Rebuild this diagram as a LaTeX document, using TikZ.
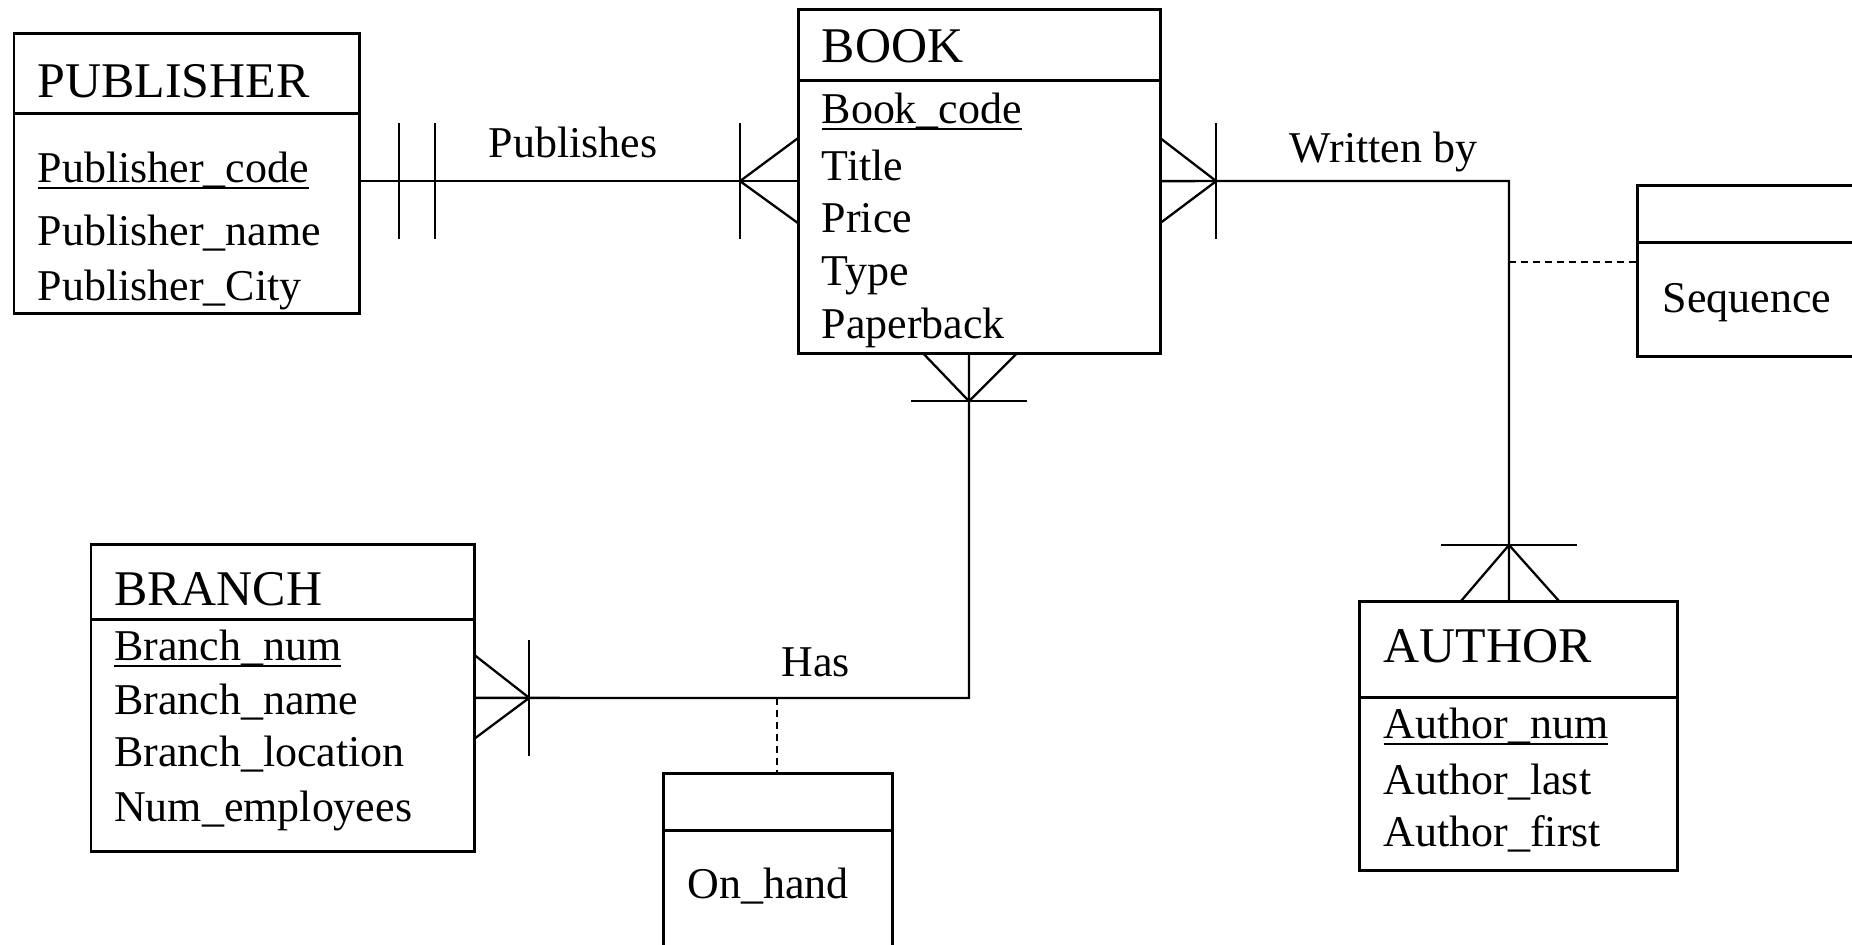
\documentclass[tikz,border=0pt]{standalone}
\usepackage{fontspec}
\setmainfont{Liberation Serif}
\usetikzlibrary{calc}

% key attribute: text with a rule just below the baseline
\newlength\keyw
\newcommand\keyattr[1]{\settowidth\keyw{#1}\rlap{\rule[-1.9pt]{\keyw}{0.6pt}}#1}

\begin{document}
\begin{tikzpicture}[x=0.01cm,y=-0.01cm,
  entity/.style={draw, line width=0.85pt, rectangle, anchor=north west,
                 inner sep=0pt, outer sep=0pt},
  divider/.style={line width=0.85pt},
  attr/.style={anchor=base west, inner sep=0pt,
               font=\fontsize{12.5pt}{15pt}\selectfont},
  etitle/.style={anchor=base west, inner sep=0pt,
                 font=\fontsize{14.2pt}{17pt}\selectfont},
  rel/.style={line width=0.65pt},
  link/.style={line width=0.7pt, dash pattern=on 2.1pt off 1.3pt}]

\useasboundingbox (0,0) rectangle (1852,944);
\clip (0,0) rectangle (1852,944);

% ---------- entity boxes ----------
\node[entity, minimum width=3.45cm, minimum height=2.80cm] (pub) at (14,33) {};
\draw[divider] ($(pub.north west)+(0,80)$) -- ($(pub.north east)+(0,80)$);

\node[entity, minimum width=3.62cm, minimum height=3.44cm] (book) at (798,9) {};
\draw[divider] ($(book.north west)+(0,71)$) -- ($(book.north east)+(0,71)$);

\node[entity, minimum width=3.83cm, minimum height=3.065cm] (branch) at (91,544.5) {};
\draw[divider] ($(branch.north west)+(0,75)$) -- ($(branch.north east)+(0,75)$);

\node[entity, minimum width=3.18cm, minimum height=2.695cm] (author) at (1359,601) {};
\draw[divider] ($(author.north west)+(0,96)$) -- ($(author.north east)+(0,96)$);

\node[entity, minimum width=3.00cm, minimum height=1.71cm] (seq) at (1637,185) {};
\draw[divider] ($(seq.north west)+(0,57)$) -- ($(seq.north east)+(0,57)$);

\node[entity, minimum width=2.29cm, minimum height=2.00cm] (onhand) at (663,773) {};
\draw[divider] ($(onhand.north west)+(0,57)$) -- ($(onhand.north east)+(0,57)$);

% ---------- entity texts ----------
\node[etitle] (tpub) at (37,97) {PUBLISHER};
\node[attr] (apub1) at (37,182) {\keyattr{Publisher\_code}};
\node[attr] (apub2) at (37,245) {Publisher\_name};
\node[attr] (apub3) at (37,300) {Publisher\_City};

\node[etitle] (tbook) at (821,62) {BOOK};
\node[attr] (abook1) at (821,123) {\keyattr{Book\_code}};
\node[attr] (abook2) at (821,180) {Title};
\node[attr] (abook3) at (821,232) {Price};
\node[attr] (abook4) at (821,285) {Type};
\node[attr] (abook5) at (821,338) {Paperback};

\node[etitle] (tbranch) at (113.5,605) {BRANCH};
\node[attr] (abr1) at (113.5,660) {\keyattr{Branch\_num}};
\node[attr] (abr2) at (113.5,714) {Branch\_name};
\node[attr] (abr3) at (113.5,766) {Branch\_location};
\node[attr] (abr4) at (113.5,821) {Num\_employees};

\node[etitle] (tauthor) at (1383,662) {AUTHOR};
\node[attr] (aau1) at (1383,738.5) {\keyattr{Author\_num}};
\node[attr] (aau2) at (1383,794) {Author\_last};
\node[attr] (aau3) at (1383,846) {Author\_first};

\node[attr] (aseq) at (1662,312) {Sequence};
\node[attr] (aonhand) at (687,898) {On\_hand};

% ---------- relationship labels ----------
\node[attr] (lpub) at (488,157) {Publishes};
\node[attr] (lwb) at (1289,162) {Written by};
\node[attr] (lhas) at (781,676) {Has};

% ---------- Publishes: PUBLISHER (one and only one) -- BOOK (one or many) ----------
\draw[rel] (pub.east |- book.west) -- (book.west);
\draw[rel] ($(pub.east |- book.west)+(40,-58)$) -- +(0,116);
\draw[rel] ($(pub.east |- book.west)+(76,-58)$) -- +(0,116);
\draw[rel] ($(book.west)+(-58,-58)$) -- +(0,116);
\draw[rel] ($(book.west)+(0,-43)$) -- ($(book.west)+(-58,0)$) -- ($(book.west)+(0,42)$);

% ---------- Written by: BOOK (one or many) -- AUTHOR (one or many) ----------
\coordinate (wbend) at (1509,181);
\coordinate (seqjoin) at (1509,262);
\draw[rel] (book.east) -- (wbend) -- (wbend |- author.north);
\draw[rel] ($(book.east)+(56,-58)$) -- +(0,116);
\draw[rel] ($(book.east)+(0,-43)$) -- ($(book.east)+(56,0)$) -- ($(book.east)+(0,42)$);
\draw[rel] ($(wbend |- author.north)+(-48,0)$) -- ($(wbend |- author.north)+(0,-56)$)
           -- ($(wbend |- author.north)+(50,0)$);
\draw[rel] ($(wbend |- author.north)+(-68,-56)$) -- ($(wbend |- author.north)+(68,-56)$);
\draw[link] (seqjoin) -- (seq.west |- seqjoin);

% ---------- Has: BOOK (one or many) -- BRANCH (one or many) ----------
\coordinate (hasbend) at (969,698);
\coordinate (hasjoin) at (777,698);
\draw[rel] (book.south -| hasbend) -- (hasbend) -- (branch.east);
\draw[rel] ($(book.south -| hasbend)+(-46,0)$) -- ($(book.south -| hasbend)+(0,48)$)
           -- ($(book.south -| hasbend)+(48,0)$);
\draw[rel] ($(book.south -| hasbend)+(-58,48)$) -- ($(book.south -| hasbend)+(58,48)$);
\draw[rel] ($(branch.east)+(0,-43)$) -- ($(branch.east)+(55,0)$) -- ($(branch.east)+(0,41)$);
\draw[rel] ($(branch.east)+(55,-58)$) -- ($(branch.east)+(55,58)$);
\draw[link] (hasjoin) -- (hasjoin |- onhand.north);

\end{tikzpicture}
\end{document}
